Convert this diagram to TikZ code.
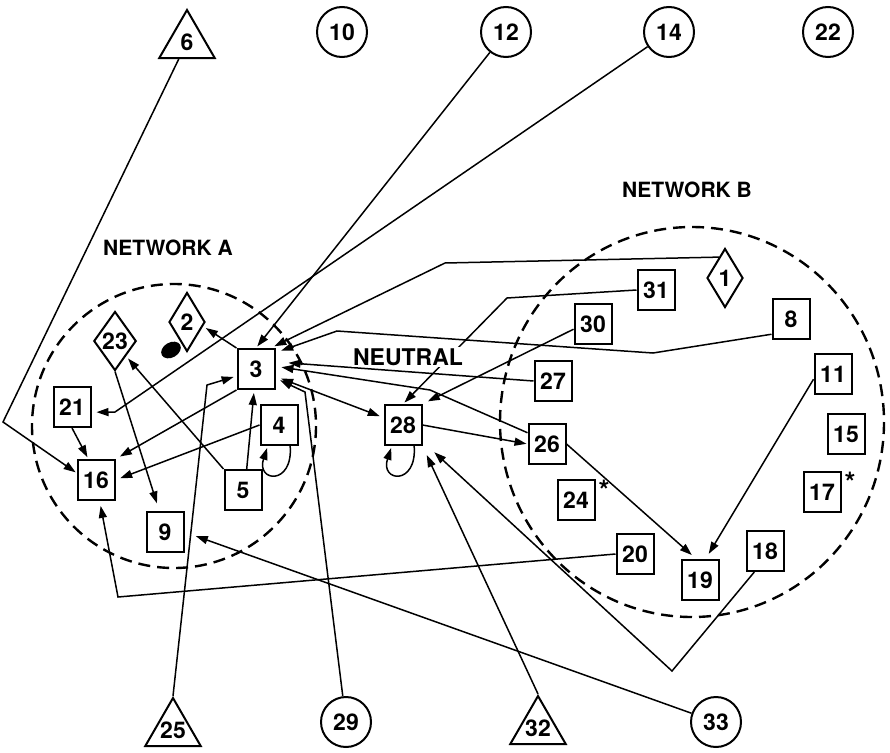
\documentclass[tikz,border=0pt]{standalone}
\usepackage{fontspec}
\setmainfont{TeX Gyre Heros}
\usetikzlibrary{arrows.meta,shapes.geometric}

\begin{document}
\begin{tikzpicture}[x=1pt,y=-1pt,
  every node/.style={font=\bfseries\fontsize{23}{23}\selectfont},
  box/.style={draw, line width=2pt, fill=white, minimum width=37pt, minimum height=40pt, inner sep=0pt},
  dia/.style={draw, diamond, line width=2pt, fill=white, minimum width=36pt, minimum height=59pt, inner sep=0pt},
  ext/.style={draw, circle, line width=2pt, fill=white, minimum size=50pt, inner sep=0pt},
  tri/.style={draw, regular polygon, regular polygon sides=3, line width=2pt, fill=white, minimum size=64pt, inner sep=0pt},
  net/.style={dash pattern=on 12pt off 7pt, line width=2.4pt},
  link/.style={line width=1.5pt, line join=miter},
  tip/.style={Triangle[length=12pt,width=8pt]},
  arr/.style={link, -{Triangle[length=12pt,width=8pt]}, shorten >=#1},
  arr/.default=3pt,
  star/.style={anchor=base, inner sep=0pt, font=\bfseries\fontsize{28}{28}\selectfont},
]
\fill[white] (0,0) rectangle (890,752);
\useasboundingbox (0,0) rectangle (890,752);

% group boundaries
\draw[net] (174,426) circle [radius=142];
\draw[net] (692,422) ellipse [x radius=192, y radius=195];

% outside actors
\node[tri, label={center:6}] (n6) at (187,42) {};
\node[ext] (n10) at (342,32) {10};
\node[ext] (n12) at (506,32) {12};
\node[ext] (n14) at (669,32) {14};
\node[ext] (n22) at (828,32) {22};
\node[tri, label={center:25}] (n25) at (173,730) {};
\node[ext] (n29) at (346,722) {29};
\node[tri, label={center:32}] (n32) at (538,728) {};
\node[ext] (n33) at (716,722) {33};

% network A
\node[dia] (n2) at (187,322) {2};
\node[dia] (n23) at (115,341) {23};
\node[ellipse, fill=black, minimum width=21pt, minimum height=15pt, inner sep=0pt, rotate=30] (spot) at (171,350) {};
\node[box] (n3) at (256,369) {3};
\node[box] (n21) at (72,407) {21};
\node[box] (n16) at (96,480) {16};
\node[box] (n4) at (279,425) {4};
\node[box] (n5) at (243,490) {5};
\node[box] (n9) at (165,532) {9};

% neutral members
\node[box] (n28) at (403,425) {28};
\node[box] (n27) at (553,381) {27};
\node[box] (n30) at (593,324) {30};
\node[box] (n31) at (656,290) {31};
\node[box] (n26) at (547,444) {26};

% network B
\node[dia] (n1) at (725,278) {1};
\node[box] (n8) at (791,319) {8};
\node[box] (n11) at (833,374) {11};
\node[box] (n15) at (846,434) {15};
\node[box] (n17) at (822,492) {17};
\node[box] (n24) at (576,500) {24};
\node[box] (n20) at (635,554) {20};
\node[box] (n19) at (700,580) {19};
\node[box] (n18) at (765,551) {18};
\node[star] (ast24) at (604,500) {*};
\node[star] (ast17) at (850,492) {*};

% bend points
\coordinate (c6) at (3,422);
\coordinate (c14) at (115,412);
\coordinate (c1) at (445,263);
\coordinate (c8a) at (653,353);
\coordinate (c8b) at (337,331);
\coordinate (c26) at (430,390);
\coordinate (c29) at (305,392);
\coordinate (c25) at (207,385);
\coordinate (c20) at (118,597);
\coordinate (c18) at (672,671);
\coordinate (c31) at (507,298);

% ties
\draw[arr=1pt] (n6) -- (c6) -- (n16.160);
\draw[arr=2pt] (n12) -- (n3.north);
\draw[arr=5pt] (n14) -- (c14) -- (n21.345);
\draw[arr=4pt] (n1.106) -- (c1) -- (n3.55);
\draw[arr=6pt] (n8.218) -- (c8a) -- (c8b) -- (n3.40);
\draw[arr=13pt] (n27.west) -- (n3.20);
\draw[arr=6pt] (n26.150) -- (c26) -- (n3.8);
\draw[link, {Triangle[length=12pt,width=8pt]}-{Triangle[length=12pt,width=8pt]}, shorten <=6pt, shorten >=4pt] (n3) -- (n28);
\draw[arr=5pt] (n29) -- (c29) -- (n3);
\draw[arr=3pt] (n25.corner 1) -- (c25) -- (n3.200);
\draw[arr=3pt] (n5.80) -- (n3.265);
\draw[arr=3pt] (n5.north west) -- (n23.south east);
\draw[arr=3pt] (n3.north west) -- (n2.-15);
\draw[arr=5pt] (n3.south west) -- (n16.north east);
\draw[arr=5pt] (n4.west) -- (n16.east);
\draw[arr=2pt] (n21.south) -- (n16.110);
\draw[arr=8pt] (n23.south) -- (n9.105);
\draw[arr=12pt] (n33) -- (n9.east);
\draw[arr=5pt] (n20.west) -- (c20) -- (n16.-80);
\draw[arr=10pt] (n32.corner 1) -- (n28.south east);
\draw[arr=16pt] (n18.243) -- (c18) -- (n28.-40);
\draw[arr=1pt] (n28.east) -- (n26.west);
\draw[arr=6pt] (n26.east) -- (n19.100);
\draw[arr=6pt] (n11.195) -- (n19.75);
\draw[arr=6pt] (n30.195) -- (n28.north east);
\draw[arr=2pt] (n31.west) -- (c31) -- (n28.north);
\draw[arr=2pt] (n4.-62) .. controls +(3,40) and +(-12,36) .. (n4.-118);
\draw[arr=2pt] (n28.-62) .. controls +(3,40) and +(-12,36) .. (n28.-118);

% captions
\node[font=\bfseries\fontsize{21}{21}\selectfont] (capA) at (168,248) {NETWORK A};
\node[font=\bfseries\fontsize{21}{21}\selectfont] (capB) at (687,190) {NETWORK B};
\node[fill=white, inner sep=1pt, font=\bfseries\fontsize{23}{23}\selectfont] (capN) at (408,357) {NEUTRAL};
\end{tikzpicture}
\end{document}
